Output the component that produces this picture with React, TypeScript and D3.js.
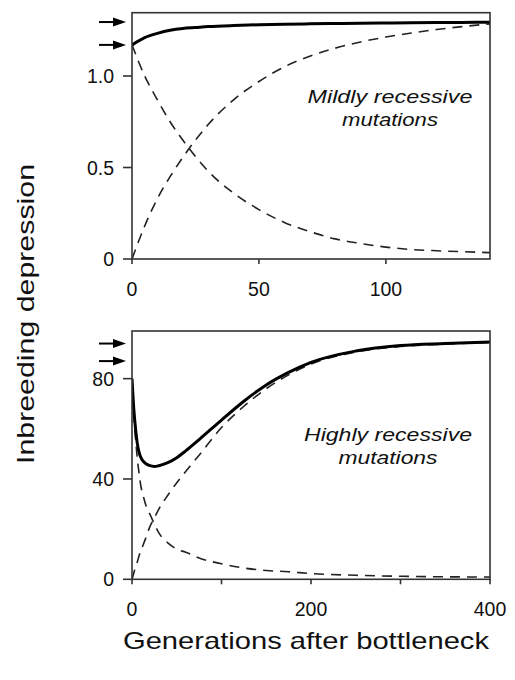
import React from "react";
import * as d3 from "d3";

// ---- Data ----
// Top panel: mildly recessive mutations
const mildGen = [0, 5, 10, 15, 20, 25, 30, 40, 50, 60, 70, 80, 90, 100, 110, 120, 130, 141];
const mildTotal = [1.17, 1.21, 1.233, 1.25, 1.26, 1.265, 1.27, 1.276, 1.28, 1.283, 1.285, 1.287, 1.288, 1.29, 1.291, 1.292, 1.293, 1.294];
const mildPurged = [1.17, 1.0, 0.87, 0.75, 0.65, 0.56, 0.48, 0.36, 0.27, 0.2, 0.15, 0.11, 0.085, 0.065, 0.052, 0.045, 0.04, 0.035];
const mildNew = [0, 0.18, 0.33, 0.45, 0.555, 0.65, 0.735, 0.87, 0.97, 1.05, 1.108, 1.152, 1.186, 1.213, 1.235, 1.254, 1.27, 1.285];
const mildArrows = [1.295, 1.17];
const mildYTicks = [0, 0.5, 1.0];
const mildYLabels = ["0", "0.5", "1.0"];
const mildXTicks = [0, 50, 100];

// Bottom panel: highly recessive mutations
const highGen = [0, 2, 4, 6, 8, 10, 12, 16, 20, 25, 30, 40, 50, 60, 75, 100, 125, 150, 175, 200, 250, 300, 350, 400];
const highTotal = [80, 68, 60, 54, 50.5, 48.5, 47.3, 46, 45.3, 45, 45.3, 46.5, 48.5, 51.2, 55.7, 63.5, 71, 77.5, 82.5, 86.5, 91, 93.2, 94, 94.6];
const highPurged = [80, 66, 56, 48, 42, 37, 34, 29, 26, 22, 18.5, 14.5, 12, 10.8, 8.5, 6.2, 4.5, 3.5, 3.0, 2.3, 1.6, 1.2, 1.0, 0.9];
const highNew = [0, 2.5, 5, 7, 9.5, 11.5, 13.3, 17, 21, 24.5, 28, 33.5, 38.5, 43, 49.5, 60.5, 69, 76, 81.5, 85.8, 90.6, 92.8, 93.8, 94.4];
const highArrows = [94, 87];
const highYTicks = [0, 40, 80];
const highYLabels = ["0", "40", "80"];
const highXTicks = [0, 100, 200, 300, 400];
const highXLabels = ["0", "", "200", "", "400"];

const FONT = "'Liberation Sans', Arial, Helvetica, sans-serif";

type PanelProps = {
  gen: number[];
  total: number[];
  purged: number[];
  fresh: number[];
  arrows: number[];
  xMax: number;
  yMax: number;
  yTicks: number[];
  yLabels: string[];
  xTicks: number[];
  xLabels: string[];
  top: number;
  bottom: number;
  label1: string;
  label2: string;
  label1Len: number;
  label2Len: number;
  labelX: number;
  labelY: number;
};

const LEFT = 132;
const RIGHT = 490;

function Panel(p: PanelProps) {
  const x = d3.scaleLinear().domain([0, p.xMax]).range([LEFT, RIGHT]);
  const y = d3.scaleLinear().domain([0, p.yMax]).range([p.bottom, p.top]);
  const mk = (vals: number[]) =>
    d3
      .line<number>()
      .x((_, i) => x(p.gen[i]))
      .y((v) => y(v))
      .curve(d3.curveMonotoneX)(vals) || "";
  return (
    <g>
      <defs>
        <clipPath id={`clip-${Math.round(p.top)}`}>
          <rect x={LEFT} y={p.top} width={RIGHT - LEFT} height={p.bottom - p.top} />
        </clipPath>
      </defs>
      <g clipPath={`url(#clip-${Math.round(p.top)})`}>
        <path d={mk(p.purged)} fill="none" stroke="#222" strokeWidth={1.6} strokeDasharray="10,7" />
        <path d={mk(p.fresh)} fill="none" stroke="#222" strokeWidth={1.6} strokeDasharray="10,7" />
        <path d={mk(p.total)} fill="none" stroke="#000" strokeWidth={3} />
      </g>
      <rect x={LEFT} y={p.top} width={RIGHT - LEFT} height={p.bottom - p.top} fill="none" stroke="#333" strokeWidth={1.6} />
      {/* y ticks */}
      {p.yTicks.map((t, i) => (
        <g key={"y" + i}>
          <line x1={LEFT - 9} x2={LEFT} y1={y(t)} y2={y(t)} stroke="#333" strokeWidth={1.6} />
          <text x={114} y={y(t) + 7} textAnchor="end" fontSize={19.5} fontFamily={FONT} fill="#111">
            {p.yLabels[i]}
          </text>
        </g>
      ))}
      {/* x ticks */}
      {p.xTicks.map((t, i) => (
        <g key={"x" + i}>
          <line x1={x(t)} x2={x(t)} y1={p.bottom} y2={p.bottom + 5} stroke="#333" strokeWidth={1.6} />
          <text x={x(t)} y={p.bottom + 37} textAnchor="middle" fontSize={19.5} fontFamily={FONT} fill="#111">
            {p.xLabels[i]}
          </text>
        </g>
      ))}
      {/* arrows */}
      {p.arrows.map((a, i) => (
        <g key={"a" + i}>
          <line x1={99} x2={114} y1={y(a)} y2={y(a)} stroke="#000" strokeWidth={2} />
          <path d={`M${113},${y(a) - 4.5} L${126},${y(a)} L${113},${y(a) + 4.5} Z`} fill="#000" />
        </g>
      ))}
      <text
        x={p.labelX}
        y={p.labelY}
        textAnchor="middle"
        fontSize={18.5}
        fontStyle="italic"
        fontFamily={FONT}
        fill="#111"
        textLength={p.label1Len}
        lengthAdjust="spacingAndGlyphs"
      >
        {p.label1}
      </text>
      <text
        x={p.labelX}
        y={p.labelY + 23}
        textAnchor="middle"
        fontSize={18.5}
        fontStyle="italic"
        fontFamily={FONT}
        fill="#111"
        textLength={p.label2Len}
        lengthAdjust="spacingAndGlyphs"
      >
        {p.label2}
      </text>
    </g>
  );
}

export default function App() {
  return (
    <svg width={515} height={680} style={{ position: "absolute", left: 0, top: 0, background: "#fff" }}>
      <rect x={0} y={0} width={515} height={680} fill="#fff" />
      <Panel
        gen={mildGen}
        total={mildTotal}
        purged={mildPurged}
        fresh={mildNew}
        arrows={mildArrows}
        xMax={141}
        yMax={1.346}
        yTicks={mildYTicks}
        yLabels={mildYLabels}
        xTicks={mildXTicks}
        xLabels={mildXTicks.map(String)}
        top={12.7}
        bottom={259}
        label1="Mildly recessive"
        label2="mutations"
        label1Len={165}
        label2Len={96}
        labelX={390}
        labelY={103}
      />
      <Panel
        gen={highGen}
        total={highTotal}
        purged={highPurged}
        fresh={highNew}
        arrows={highArrows}
        xMax={400}
        yMax={99}
        yTicks={highYTicks}
        yLabels={highYLabels}
        xTicks={highXTicks}
        xLabels={highXLabels}
        top={331}
        bottom={579.3}
        label1="Highly recessive"
        label2="mutations"
        label1Len={168}
        label2Len={99}
        labelX={388}
        labelY={441}
      />
      <text
        transform="translate(34,314) rotate(-90)"
        textAnchor="middle"
        fontSize={24}
        fontFamily={FONT}
        fill="#111"
        textLength={300}
        lengthAdjust="spacingAndGlyphs"
      >
        Inbreeding depression
      </text>
      <text
        x={306}
        y={649}
        textAnchor="middle"
        fontSize={24}
        fontFamily={FONT}
        fill="#111"
        textLength={366}
        lengthAdjust="spacingAndGlyphs"
      >
        Generations after bottleneck
      </text>
    </svg>
  );
}
